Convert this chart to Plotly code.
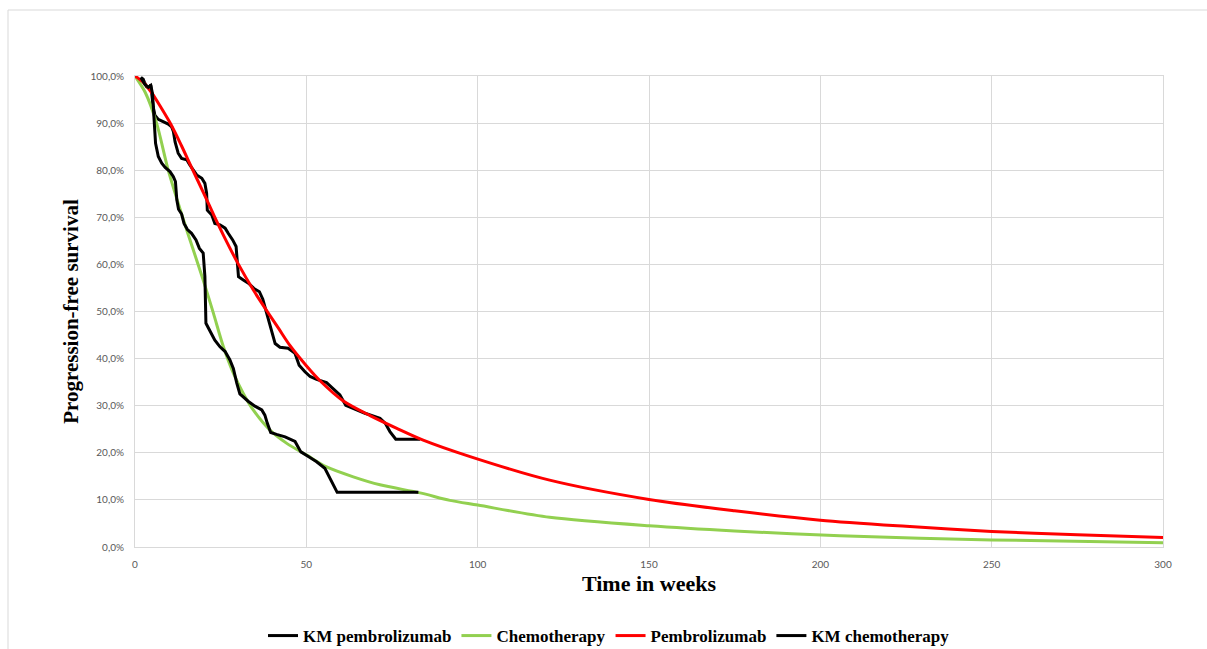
import plotly.graph_objects as go

# ---------------- data ----------------
km_pem_t = [1.7, 2.4, 2.9, 3.4, 4.0, 4.6, 5.3, 5.8, 6.8, 8.3, 9.7, 10.7, 11.2, 11.7, 12.6, 13.6,
            15.1, 16.0, 17.0, 18.0, 19.5, 20.4, 20.9, 21.1, 22.4, 23.3, 24.8, 26.3, 27.2, 28.5,
            29.5, 29.7, 30.2, 31.6, 33.1, 34.7, 36.3, 37.3, 38.6, 39.9, 40.9, 42.3, 44.7, 46.7,
            47.9, 49.6, 51.1, 53.0, 55.9, 57.4, 59.8, 61.5, 63.7, 67.1, 71.5, 73.0, 74.4, 76.1, 83.2]
km_pem_s = [99.7, 99.3, 98.4, 97.7, 97.5, 98.1, 93.5, 91.7, 90.8, 90.3, 89.8, 89.2, 88.2, 86.0, 83.6, 82.5,
            82.2, 81.1, 80.0, 79.0, 78.3, 77.2, 75.1, 71.5, 70.5, 68.7, 68.4, 67.7, 66.6, 65.2,
            63.8, 61.6, 57.4, 56.7, 56.0, 54.9, 54.2, 52.6, 49.3, 46.1, 43.2, 42.4, 42.2, 41.1,
            38.6, 37.2, 36.2, 35.6, 34.9, 33.9, 32.3, 30.1, 29.4, 28.4, 27.3, 26.3, 24.5, 22.9, 22.9]

km_chemo_t = [1.7, 2.9, 3.9, 4.6, 5.1, 5.5, 6.0, 6.8, 7.8, 8.8, 10.2, 11.2, 11.8, 12.2, 12.7, 13.6,
              14.3, 15.3, 16.5, 17.8, 18.8, 19.9, 20.4, 20.7, 21.9, 23.3, 24.8, 26.3, 27.7, 28.7,
              29.7, 30.6, 33.1, 35.0, 37.0, 37.9, 38.6, 39.6, 41.3, 43.8, 46.7, 48.4, 50.6, 53.0,
              55.4, 59.0, 82.7]
km_chemo_s = [99.7, 98.2, 97.6, 98.0, 96.3, 91.4, 85.7, 82.9, 81.5, 80.6, 79.7, 78.6, 77.6, 73.7, 71.7, 70.7,
              68.7, 67.4, 66.6, 65.2, 63.4, 62.4, 57.4, 47.5, 45.7, 43.9, 42.5, 41.5, 39.7, 37.9,
              34.8, 32.5, 30.9, 29.9, 29.1, 28.0, 26.3, 24.3, 23.9, 23.4, 22.4, 20.2, 19.2, 18.1,
              16.7, 11.6, 11.6]

chemo_t = [0, 3, 6.3, 9.7, 13.9, 17, 19.9, 22.9, 25.8, 28.7, 31.6, 34.5, 39.4, 44.3, 50.1, 55.9,
           63.7, 71.5, 83.2, 91.9, 100, 121, 150, 175, 205.7, 250, 300]
chemo_s = [100, 96.5, 90, 80, 70, 63.1, 56.7, 49.6, 42.5, 36.9, 32.6, 29.1, 24.8, 22.0, 19.5, 17.0,
           14.9, 13.2, 11.5, 9.9, 8.9, 6.3, 4.5, 3.4, 2.4, 1.5, 0.9]

pem_t = [0, 2.5, 5, 7.5, 10.5, 13.5, 16.5, 20, 23.3, 26.7, 30.2, 34.5, 38.6, 42, 45.2, 50, 54,
         60.8, 68.6, 76.4, 84.1, 97.8, 121, 150, 175, 200, 225, 250, 275, 300]
pem_s = [100, 98.6, 96.3, 93.4, 89.7, 85.3, 80.6, 75.2, 70, 64.9, 60, 54.6, 50, 46.3, 42.8, 38.5, 35.3,
         31.0, 27.9, 25.2, 22.7, 19.2, 14.2, 10.1, 7.7, 5.7, 4.4, 3.3, 2.6, 2.0]

y_ticks = [0, 10, 20, 30, 40, 50, 60, 70, 80, 90, 100]
y_tick_text = ["0,0%", "10,0%", "20,0%", "30,0%", "40,0%", "50,0%",
               "60,0%", "70,0%", "80,0%", "90,0%", "100,0%"]
x_ticks = [0, 50, 100, 150, 200, 250, 300]

# ---------------- figure ----------------
SERIF = "Liberation Serif, Times New Roman, serif"
TICKFONT = dict(family="Lato, Liberation Sans, sans-serif", size=10, color="#595959")
GRID = "#d9d9d9"

fig = go.Figure()
fig.add_trace(go.Scatter(x=km_pem_t, y=km_pem_s, mode="lines", name="KM pembrolizumab",
                         line=dict(color="#000000", width=3)))
fig.add_trace(go.Scatter(x=chemo_t, y=chemo_s, mode="lines", name="Chemotherapy",
                         line=dict(color="#92D050", width=3, shape="spline", smoothing=0.8)))
fig.add_trace(go.Scatter(x=pem_t, y=pem_s, mode="lines", name="Pembrolizumab",
                         line=dict(color="#FF0000", width=3, shape="spline", smoothing=0.8)))
fig.add_trace(go.Scatter(x=km_chemo_t, y=km_chemo_s, mode="lines", name="KM chemotherapy",
                         line=dict(color="#000000", width=3)))

fig.update_layout(
    width=1207, height=649,
    paper_bgcolor="white", plot_bgcolor="white",
    margin=dict(l=135, r=44, t=76, b=102, autoexpand=False),
    showlegend=True,
    legend=dict(orientation="h", xref="container", yref="container",
                x=609 / 1207, xanchor="center", y=0.02, yanchor="middle",
                font=dict(family=SERIF, size=17, color="#000000", weight="bold"),
                itemwidth=30, tracegroupgap=0),
    xaxis=dict(range=[0, 300], tickvals=x_ticks, showgrid=True, gridcolor=GRID, gridwidth=1,
               showline=True, linecolor=GRID, linewidth=1, mirror=True, zeroline=False,
               ticks="", ticklabelstandoff=8, tickfont=TICKFONT,
               title=dict(text="<b>Time in weeks</b>", standoff=6,
                          font=dict(family=SERIF, size=22, color="#000000"))),
    yaxis=dict(range=[0, 100], tickvals=y_ticks, ticktext=y_tick_text, showgrid=True,
               gridcolor=GRID, gridwidth=1, showline=True, linecolor=GRID, linewidth=1,
               mirror=True, zeroline=False, ticks="", ticklabelstandoff=8, tickfont=TICKFONT,
               title=dict(text="<b>Progression-free survival</b>", standoff=6,
                          font=dict(family=SERIF, size=21, color="#000000"))),
    shapes=[dict(type="rect", xref="paper", yref="paper",
                 x0=(8 - 135) / 1028, x1=1.5, y0=-1.0, y1=(547 - 10) / 471,
                 line=dict(color=GRID, width=1), fillcolor="rgba(0,0,0,0)", layer="below")],
)

fig.write_html("out.html", config={"displayModeBar": False},
               post_script="document.body.style.margin='0px';document.body.style.overflow='hidden';")
